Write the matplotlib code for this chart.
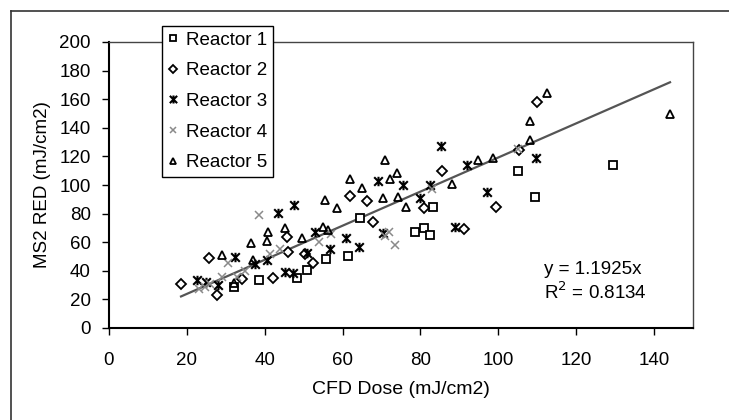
import matplotlib
matplotlib.use("Agg")
import matplotlib.pyplot as plt
import numpy as np
from matplotlib.path import Path
from matplotlib.lines import Line2D

plt.rcParams['font.family'] = ['Liberation Sans', 'DejaVu Sans']

# Reactor 1 (squares)
r1_x = [32, 38.5, 48.4, 50.8, 55.7, 61.5, 64.5, 78.6, 81, 82.5, 83.3, 105.1, 109.4, 129.4]
r1_y = [29, 33.5, 34.8, 40.3, 48.2, 50.5, 77.0, 67.4, 70, 65, 84.4, 110, 91.8, 114]
# Reactor 2 (diamonds)
r2_x = [18.5, 25.8, 27.8, 34.2, 42.1, 45.6, 46.1, 50.3, 52.5, 61.9, 66.2, 67.7,
        81, 85.5, 91.2, 99.4, 105.4, 110]
r2_y = [31, 48.7, 23, 34.5, 35, 63.8, 53.4, 52, 45.2, 92.5, 89, 74,
        83.7, 110, 69.5, 84.4, 124.5, 158.3]
# Reactor 3 (asterisks)
r3_x = [22.5, 25, 28, 32.4, 37.5, 40.5, 43.3, 45.2, 47.3, 47.5, 50.8, 52.9, 56.8,
        61, 64.3, 69.2, 70.3, 75.6, 79.9, 82.5, 85.3, 88.9, 92, 97.2, 109.7]
r3_y = [33.6, 32, 30, 50, 45, 47.6, 80.7, 39.4, 38.2, 86, 52.2, 67.4, 55,
        63, 56.6, 103, 66.5, 100, 91, 100, 127, 70.6, 114, 95.3, 118.6]
# Reactor 4 (grey crosses)
r4_x = [23, 24.7, 26, 29, 30.6, 33, 35, 38.6, 41.4, 44, 54, 57, 71, 72, 73.5, 83, 105]
r4_y = [27, 28.7, 31, 36, 45.2, 36, 40, 79, 52, 55, 60, 66, 64, 67, 58, 97, 125]
# Reactor 5 (triangles)
r5_x = [28.9, 32, 36.6, 37, 40.5, 40.9, 45.2, 49.5, 55, 55.5, 56.3, 58.6, 62, 64.9,
        70.5, 70.9, 72.2, 73.9, 74.2, 76.2, 88.2, 94.9, 98.7, 108.1, 108.1, 112.4, 144.1]
r5_y = [51, 31.3, 59.2, 47.6, 60.5, 67, 70, 63, 70.8, 89.5, 68.5, 83.7, 104, 97.7,
        90.7, 117.5, 104.5, 108.3, 91.8, 84.5, 101, 117.2, 118.6, 131.5, 145, 164.6, 150]

slope = 1.1925
r2_text = "0.8134"

star = Path([(-1, -1), (1, 1), (-1, 1), (1, -1), (0, -1.1), (0, 1.1)],
            [Path.MOVETO, Path.LINETO, Path.MOVETO, Path.LINETO, Path.MOVETO, Path.LINETO])

fig = plt.figure(figsize=(7.29, 4.2), dpi=100)
ax = fig.add_axes([109 / 729, 1 - 328 / 420, (693 - 109) / 729, (328 - 42) / 420])

ms = 5.8
ax.plot(r1_x, r1_y, linestyle='none', marker='s', ms=ms - 0.5, mfc='white', mec='black', mew=1.3, label='Reactor 1')
ax.plot(r2_x, r2_y, linestyle='none', marker='D', ms=ms - 1, mfc='white', mec='black', mew=1.3, label='Reactor 2')
ax.plot(r3_x, r3_y, linestyle='none', marker=star, ms=ms + 1, mfc='none', mec='black', mew=1.5, label='Reactor 3')
ax.plot(r4_x, r4_y, linestyle='none', marker='x', ms=ms, mec='#8a8a8a', mew=1.1, label='Reactor 4')
ax.plot(r5_x, r5_y, linestyle='none', marker='^', ms=ms, mfc='none', mec='black', mew=1.3, label='Reactor 5')

all_x = np.concatenate([r1_x, r2_x, r3_x, r4_x, r5_x])
xs = np.array([all_x.min(), all_x.max()])
ax.plot(xs, slope * xs, color='#555555', lw=1.6, zorder=1)

ax.set_xlim(0, 150)
ax.set_ylim(0, 200)
ax.set_xticks(range(0, 141, 20))
ax.set_yticks(range(0, 201, 20))
ax.tick_params(direction='out', length=5, width=1, labelsize=13.5, colors='black')
ax.tick_params(axis='x', pad=12)
ax.tick_params(axis='y', pad=8)
for s in ['left', 'bottom']:
    ax.spines[s].set_linewidth(1.5)
for s in ['top', 'right']:
    ax.spines[s].set_linewidth(1.0)
    ax.spines[s].set_color('#444444')

ax.set_xlabel('CFD Dose (mJ/cm2)', fontsize=14, labelpad=9)
ax.set_ylabel('MS2 RED (mJ/cm2)', fontsize=13.5, labelpad=6)

ax.text(0.745, 0.203, 'y = %.4fx' % slope, transform=ax.transAxes, fontsize=13.5, va='center')
ax.text(0.745, 0.126, 'R$^2$ = ' + r2_text, transform=ax.transAxes, fontsize=13.5, va='center')

leg = ax.legend(loc='upper left', bbox_to_anchor=(162 / 729, 1 - 26 / 420),
                bbox_transform=fig.transFigure, borderaxespad=0, fancybox=False,
                framealpha=1, edgecolor='black', fontsize=13.5, handlelength=0.6,
                handletextpad=0.4, labelspacing=0.72, borderpad=0.3, markerscale=0.85)
leg.get_frame().set_linewidth(1.0)

# outer chart frame
fig.add_artist(Line2D([11 / 729, 1], [1 - 11 / 420] * 2, transform=fig.transFigure, color='#333333', lw=1.2))
fig.add_artist(Line2D([11 / 729] * 2, [0, 1 - 11 / 420], transform=fig.transFigure, color='#333333', lw=1.2))

fig.savefig('out.png', dpi=100)
